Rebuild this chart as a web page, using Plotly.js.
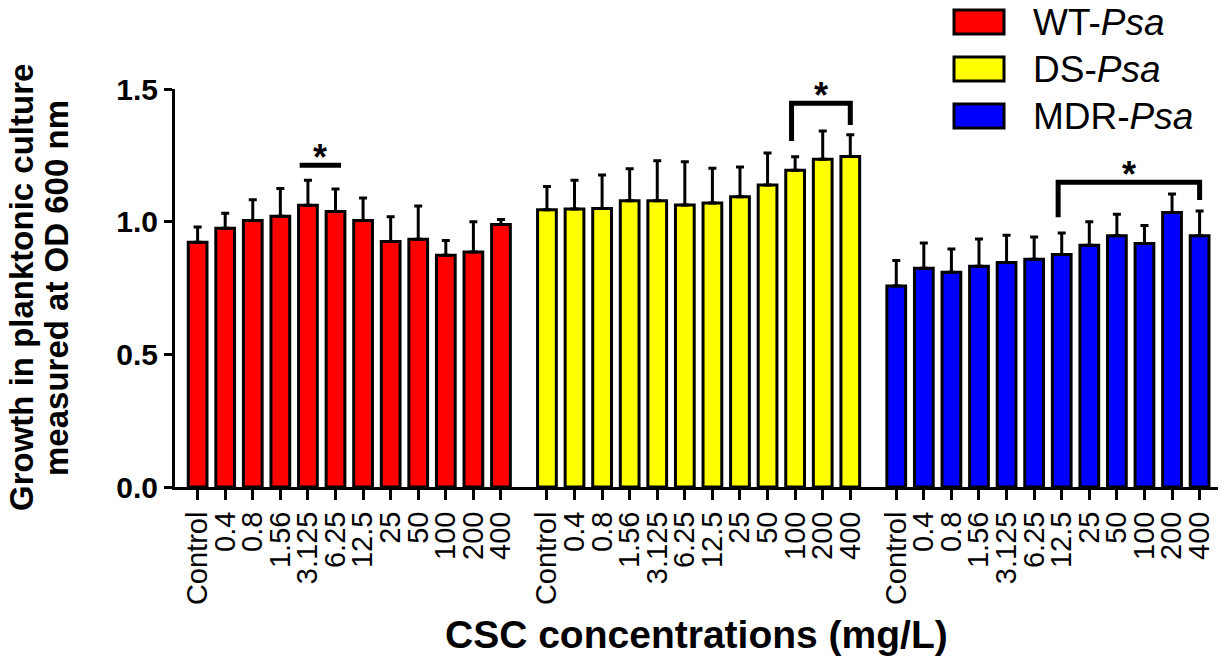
<!DOCTYPE html>
<html>
<head>
<meta charset="utf-8">
<script src="https://cdn.plot.ly/plotly-3.0.1.min.js"></script>
<style>
  html, body { margin: 0; padding: 0; background: #ffffff; }
  #chart { width: 1222px; height: 656px; }
</style>
</head>
<body>
<div id="chart"></div>
<script>
// ---- Data ----
const categories = ['Control', '0.4', '0.8', '1.56', '3.125', '6.25', '12.5', '25', '50', '100', '200', '400'];
const strainNames = ['WT-<i>Psa</i>', 'DS-<i>Psa</i>', 'MDR-<i>Psa</i>'];

const wtMean  = [0.922, 0.975, 1.004, 1.020, 1.062, 1.038, 1.004, 0.925, 0.934, 0.873, 0.886, 0.989];
const wtSD    = [0.058, 0.057, 0.079, 0.105, 0.094, 0.085, 0.085, 0.094, 0.125, 0.056, 0.114, 0.019];
const dsMean  = [1.045, 1.048, 1.050, 1.079, 1.079, 1.063, 1.070, 1.094, 1.138, 1.194, 1.235, 1.246];
const dsSD    = [0.088, 0.108, 0.126, 0.120, 0.151, 0.163, 0.131, 0.112, 0.121, 0.051, 0.107, 0.082];
const mdrMean = [0.758, 0.824, 0.809, 0.832, 0.846, 0.858, 0.876, 0.911, 0.947, 0.918, 1.035, 0.947];
const mdrSD   = [0.096, 0.096, 0.088, 0.103, 0.103, 0.084, 0.081, 0.089, 0.081, 0.068, 0.069, 0.093];

// significance brackets: group, first bar, last bar, bracket level, leg ends (null = no legs)
const sigGroup = [0, 1, 2];
const sigFrom  = [4, 9, 6];
const sigTo    = [5, 11, 11];
const sigLevel = [1.213, 1.446, 1.149];
const sigLegA  = [null, 1.304, 1.017];
const sigLegB  = [null, 1.364, 1.082];

const yTitleLines = ['Growth in planktonic culture', 'measured at OD 600 nm'];
const xTitle = 'CSC concentrations (mg/L)';

// ---- Styling / layout ----
const colors = ['#FF0000', '#FFFF00', '#0000FF'];
const means = [wtMean, dsMean, mdrMean];
const sds = [wtSD, dsSD, mdrSD];
const groupStep = 12 + 2 / 3;
const FONT = 'Liberation Sans, Arial, Helvetica, sans-serif';
const Y_MAX = 1.5;

function xPos(g, i) { return g * groupStep + i; }

const traces = [];
const tickvals = [];
const ticktext = [];
for (let g = 0; g < 3; g++) {
  const xs = categories.map((c, i) => xPos(g, i));
  xs.forEach((x, i) => { tickvals.push(x); ticktext.push(categories[i]); });
  traces.push({
    type: 'bar',
    name: strainNames[g],
    x: xs,
    y: means[g],
    width: 0.68,
    marker: { color: colors[g], line: { color: '#000000', width: 3 } },
    error_y: {
      type: 'data', symmetric: false,
      array: sds[g], arrayminus: sds[g].map(() => 0),
      color: '#000000', thickness: 3, width: 4
    },
    showlegend: false,
    hovertemplate: '%{y:.3f}<extra>' + strainNames[g] + '</extra>'
  });
}

const shapes = [];
const annotations = [];
for (let k = 0; k < sigGroup.length; k++) {
  const xa = xPos(sigGroup[k], sigFrom[k]);
  const xb = xPos(sigGroup[k], sigTo[k]);
  let path, xc;
  if (sigLegA[k] === null) {
    path = 'M ' + (xa - 0.3) + ',' + sigLevel[k] + ' L ' + (xb + 0.2) + ',' + sigLevel[k];
    xc = (xa - 0.3 + xb + 0.2) / 2;
  } else {
    const x1 = xa - 0.13, x2 = xb + 0.0;
    path = 'M ' + x1 + ',' + sigLegA[k] + ' L ' + x1 + ',' + sigLevel[k] +
           ' L ' + x2 + ',' + sigLevel[k] + ' L ' + x2 + ',' + sigLegB[k];
    xc = (x1 + x2) / 2;
  }
  shapes.push({ type: 'path', xref: 'x', yref: 'y', path: path,
                line: { color: '#000000', width: 5 } });
  // star: paper y so it is not hidden when it sits just above the axis range
  annotations.push({ xref: 'x', yref: 'paper', x: xc, y: (sigLevel[k] + 0.058) / Y_MAX, yshift: 15,
                     text: '*', showarrow: false,
                     font: { family: FONT, size: 36, color: '#000000', weight: 'bold' } });
}

// plot-area geometry (px) used to place the hand-drawn legend and titles
const W = 1222, H = 656;
const mL = 175, mR = 4, mT = 89, mB = 169;
const pw = W - mL - mR, ph = H - mT - mB;
function px2paperX(px) { return (px - mL) / pw; }
function px2paperY(py) { return (H - mB - py) / ph; }
const legBoxTop = [10, 57, 104];
const legBoxH = 24;
for (let g = 0; g < 3; g++) {
  shapes.push({ type: 'rect', xref: 'paper', yref: 'paper',
                x0: px2paperX(954), x1: px2paperX(1004),
                y0: px2paperY(legBoxTop[g] + legBoxH), y1: px2paperY(legBoxTop[g]),
                fillcolor: colors[g], line: { color: '#000000', width: 3 } });
  annotations.push({ xref: 'paper', yref: 'paper',
                     x: px2paperX(1031), y: px2paperY(legBoxTop[g] + legBoxH / 2),
                     xanchor: 'left', yanchor: 'middle', showarrow: false,
                     text: strainNames[g],
                     font: { family: FONT, size: 37, color: '#000000' } });
}

// axis titles
annotations.push({ xref: 'paper', yref: 'paper', x: 0.5, y: px2paperY(634),
                   xanchor: 'center', yanchor: 'middle', showarrow: false,
                   text: xTitle,
                   font: { family: FONT, size: 39, color: '#000000', weight: 'bold' } });
const yTitleX = [21, 56];
yTitleLines.forEach((t, k) => {
  annotations.push({ xref: 'paper', yref: 'paper', x: px2paperX(yTitleX[k]), y: 0.5,
                     xanchor: 'center', yanchor: 'middle', textangle: -90, showarrow: false,
                     text: t,
                     font: { family: FONT, size: 33, color: '#000000', weight: 'bold' } });
});

const layout = {
  width: W, height: H,
  margin: { l: mL, r: mR, t: mT, b: mB },
  paper_bgcolor: '#ffffff', plot_bgcolor: '#ffffff',
  barmode: 'overlay',
  showlegend: false,
  font: { family: FONT, color: '#000000' },
  xaxis: {
    range: [-0.82, 37.0],
    tickmode: 'array', tickvals: tickvals, ticktext: ticktext,
    tickangle: -90,
    tickfont: { family: FONT, size: 29, color: '#000000' },
    ticks: 'outside', ticklen: 10, tickwidth: 3, tickcolor: '#000000',
    showline: true, linewidth: 3, linecolor: '#000000',
    showgrid: false, zeroline: false, automargin: false, fixedrange: true
  },
  yaxis: {
    range: [0, Y_MAX],
    tickmode: 'array', tickvals: [0, 0.5, 1.0, 1.5], tickformat: '.1f',
    tickfont: { family: FONT, size: 30, color: '#000000', weight: 'bold' },
    ticks: 'outside', ticklen: 8, tickwidth: 3, tickcolor: '#000000',
    showline: true, linewidth: 3, linecolor: '#000000',
    showgrid: false, zeroline: false, automargin: false, fixedrange: true
  },
  shapes: shapes,
  annotations: annotations
};

Plotly.newPlot('chart', traces, layout, { displayModeBar: false });
</script>
</body>
</html>
